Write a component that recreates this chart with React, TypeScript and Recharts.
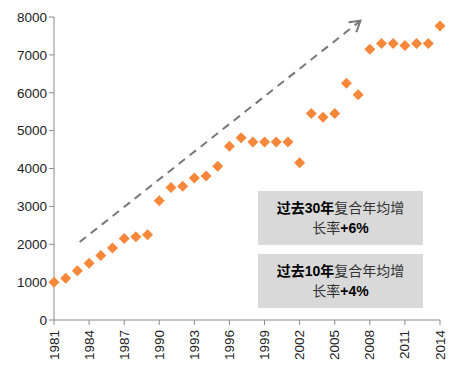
import { ScatterChart, Scatter, XAxis, YAxis, ReferenceLine } from 'recharts';

const years = [
  1981, 1982, 1983, 1984, 1985, 1986, 1987, 1988, 1989, 1990, 1991, 1992,
  1993, 1994, 1995, 1996, 1997, 1998, 1999, 2000, 2001, 2002, 2003, 2004,
  2005, 2006, 2007, 2008, 2009, 2010, 2011, 2012, 2013, 2014,
];
const values = [
  1000, 1100, 1300, 1500, 1700, 1900, 2150, 2200, 2250, 3150, 3500, 3530,
  3750, 3800, 4060, 4590, 4810, 4700, 4700, 4700, 4700, 4150, 5450, 5350,
  5450, 6250, 5950, 7150, 7300, 7300, 7250, 7300, 7300, 7760,
];
const xTicks = [1981, 1984, 1987, 1990, 1993, 1996, 1999, 2002, 2005, 2008, 2011, 2014];
const yTicks = [0, 1000, 2000, 3000, 4000, 5000, 6000, 7000, 8000];
const trendStart = { x: 1983.2, y: 2060 };
const trendEnd = { x: 2007.2, y: 7900 };

const data = years.map((year, i) => ({ year, value: values[i] }));

const ORANGE = '#F7873A';
const AXIS = '#8c8c8c';
const FONT = '"Liberation Sans", Arial, sans-serif';

function Diamond(props: any) {
  const { cx, cy } = props;
  const r = 5.5;
  return (
    <polygon
      points={`${cx},${cy - r} ${cx + r},${cy} ${cx},${cy + r} ${cx - r},${cy}`}
      fill={ORANGE}
    />
  );
}

function XTick(props: any) {
  const { x, y, payload } = props;
  return (
    <text
      x={x}
      y={y + 3}
      transform={`rotate(-90, ${x}, ${y + 3})`}
      textAnchor="end"
      dominantBaseline="central"
      fontSize={13.5}
      fontFamily={FONT}
      fill="#222"
    >
      {payload.value}
    </text>
  );
}

function Arrow(props: any) {
  const { x1, y1, x2, y2 } = props;
  const ang = Math.atan2(y2 - y1, x2 - x1);
  const len = 12;
  const a1 = ang + Math.PI - 0.55;
  const a2 = ang + Math.PI + 0.55;
  return (
    <g>
      <line x1={x1} y1={y1} x2={x2} y2={y2} stroke="#777" strokeWidth={2} strokeDasharray="8 6" />
      <polyline
        points={`${x2 + len * Math.cos(a1)},${y2 + len * Math.sin(a1)} ${x2},${y2} ${x2 + len * Math.cos(a2)},${y2 + len * Math.sin(a2)}`}
        fill="none"
        stroke="#777"
        strokeWidth={2}
      />
    </g>
  );
}

const boxStyle: React.CSSProperties = {
  position: 'absolute',
  left: 258,
  width: 165,
  height: 54,
  background: '#D9D9D9',
  display: 'flex',
  flexDirection: 'column',
  alignItems: 'center',
  justifyContent: 'center',
  fontFamily: '"Liberation Sans", "Noto Sans CJK SC", sans-serif',
  fontSize: 14,
  lineHeight: '20px',
  color: '#333',
};

function Note({ top, span, rate }: { top: number; span: string; rate: string }) {
  return (
    <div style={{ ...boxStyle, top }}>
      <div>
        <b style={{ color: '#000' }}>过去{span}年</b>复合年均增
      </div>
      <div>
        长率<b style={{ color: '#000' }}>{rate}</b>
      </div>
    </div>
  );
}

export default function App() {
  return (
    <div style={{ position: 'absolute', left: 0, top: 0, width: 473, height: 376, background: '#fff' }}>
      <ScatterChart width={473} height={376} margin={{ top: 17, right: 33, left: 0, bottom: 0 }}>
        <XAxis
          type="number"
          dataKey="year"
          domain={[1981, 2014]}
          ticks={xTicks}
          interval={0}
          height={56}
          stroke={AXIS}
          tickSize={5}
          tick={<XTick />}
        />
        <YAxis
          type="number"
          dataKey="value"
          domain={[0, 8000]}
          ticks={yTicks}
          interval={0}
          width={54}
          stroke={AXIS}
          tickSize={5}
          tick={{ fontSize: 13.5, fontFamily: FONT, fill: '#222' }}
        />
        <ReferenceLine segment={[trendStart, trendEnd]} shape={<Arrow />} ifOverflow="visible" />
        <Scatter data={data} shape={<Diamond />} isAnimationActive={false} />
      </ScatterChart>
      <Note top={191} span="30" rate="+6%" />
      <Note top={254} span="10" rate="+4%" />
    </div>
  );
}
